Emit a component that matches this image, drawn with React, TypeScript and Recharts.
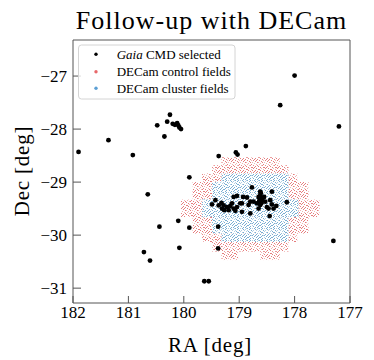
import React from "react";
import {
  ScatterChart,
  Scatter,
  XAxis,
  YAxis,
  ReferenceArea,
} from "recharts";

// Gaia CMD selected stars (RA, Dec in deg)
const gaiaRa = [
  181.9, 181.36, 180.92, 180.48, 180.3, 180.25, 180.35, 180.2, 180.16, 180.12,
  180.1, 180.08, 180.05, 179.37, 179.06, 179.03, 178.88, 178.26, 178.0, 177.2,
  179.9, 180.65, 180.44, 180.1, 179.9, 180.08, 180.72, 180.61, 179.63, 179.55,
  177.3, 179.38, 179.38, 178.14,
  179.43, 179.49, 179.32, 179.28, 179.31, 179.27, 179.22, 179.16, 179.13, 179.1,
  179.07, 179.04, 178.98, 178.95, 178.93, 179.1, 179.04, 178.86, 178.8, 178.83,
  178.77, 178.62, 178.62, 178.63, 178.64, 178.62, 178.68, 178.59, 178.55, 178.53,
  178.5, 178.47, 178.45, 178.41, 178.38, 178.44, 178.74, 178.65, 178.8, 178.41,
  178.33, 178.6, 178.65, 178.95, 179.19, 179.37, 178.61, 178.63, 178.58,
];
const gaiaDec = [
  -28.43, -28.21, -28.49, -27.93, -27.86, -27.73, -28.14, -27.9, -27.92, -27.89,
  -27.93, -27.97, -28.0, -28.51, -28.44, -28.48, -28.32, -27.55, -26.99, -27.95,
  -28.91, -29.23, -29.84, -29.73, -29.86, -30.24, -30.32, -30.48, -30.87, -30.87,
  -30.11, -30.25, -29.84, -29.38,
  -29.34, -29.42, -29.39, -29.44, -29.5, -29.53, -29.47, -29.45, -29.4, -29.5,
  -29.54, -29.47, -29.4, -29.56, -29.28, -29.28, -29.26, -29.29, -29.37, -29.43,
  -29.1, -29.18, -29.25, -29.31, -29.37, -29.43, -29.4, -29.34, -29.28, -29.37,
  -29.47, -29.5, -29.64, -29.42, -29.5, -29.34, -29.37, -29.5, -29.59, -29.18,
  -29.45, -29.4, -29.28, -29.4, -29.53, -29.44, -29.21, -29.34, -29.31,
];

// DECam control fields (outer footprint), one rectangle per strip
const controlRaLo = [178.27, 178.11, 177.95, 177.75, 177.55, 177.75, 177.95, 178.11, 179.02, 178.27];
const controlRaHi = [179.32, 179.49, 179.67, 179.84, 180.05, 179.84, 179.67, 179.49, 179.32, 178.62];
const controlDecLo = [-28.68, -28.84, -29.0, -29.33, -29.66, -29.97, -30.13, -30.31, -30.47, -30.47];
const controlDecHi = [-28.53, -28.68, -28.84, -29.0, -29.33, -29.66, -29.97, -30.13, -30.31, -30.31];

// DECam cluster fields (inner footprint)
const clusterRaLo = [178.11, 178.11, 177.93, 178.11, 178.11];
const clusterRaHi = [179.32, 179.49, 179.67, 179.49, 179.32];
const clusterDecLo = [-29.0, -29.33, -29.66, -29.97, -30.13];
const clusterDecHi = [-28.84, -29.0, -29.33, -29.66, -29.97];

const raTicks = [182, 181, 180, 179, 178, 177];
const decTicks = [-31, -30, -29, -28, -27];

const FONT = "'Liberation Serif', 'Times New Roman', serif";
const AXIS = "#555";

const gaiaData = gaiaRa.map((ra, i) => ({ ra, dec: gaiaDec[i] }));

// speckle texture: x offsets of dots on each row of a 12x12 tile
const redRows = [
  [1, 4, 9], [6, 7, 11], [0, 3, 8], [2, 5, 10], [1, 4, 7, 11], [3, 9],
  [0, 5, 6, 10], [2, 8], [4, 7, 11], [1, 5, 9, 10], [3, 6], [0, 2, 8, 11],
];
const blueRows = [
  [0, 2, 6, 7, 10], [3, 5, 9], [1, 4, 7, 11], [0, 6, 8], [2, 3, 9, 10], [5, 7, 11],
  [1, 4, 8], [0, 3, 6, 10, 11], [2, 5, 9], [0, 4, 7, 8], [1, 6, 10], [3, 5, 9],
];

function Speckle({ id, rows, color, base }: { id: string; rows: number[][]; color: string; base?: boolean }) {
  return (
    <pattern id={id} patternUnits="userSpaceOnUse" width={12} height={12}>
      {base && <rect x={0} y={0} width={12} height={12} fill="#fff" />}
      {rows.map((xs, y) =>
        xs.map((x, j) => (
          <rect
            key={y + "-" + j}
            x={x}
            y={y}
            width={1}
            height={1}
            fill={color}
            fillOpacity={(x + y) % 3 === 0 ? 0.35 : 0.6}
          />
        ))
      )}
    </pattern>
  );
}

const XTick = (props: any) => {
  const { x, y, payload } = props;
  return (
    <g>
      <line x1={x} x2={x} y1={y} y2={y - 7} stroke={AXIS} strokeWidth={1} />
      <text x={x} y={y + 15} textAnchor="middle" fontSize={17} fontFamily={FONT} fill="#000">
        {payload.value}
      </text>
    </g>
  );
};

const YTick = (props: any) => {
  const { x, y, payload } = props;
  return (
    <g>
      <line x1={x} x2={x + 8} y1={y} y2={y} stroke={AXIS} strokeWidth={1} />
      <text x={x - 6} y={y + 6} textAnchor="end" fontSize={17} fontFamily={FONT} fill="#000">
        {"\u2212" + Math.abs(payload.value)}
      </text>
    </g>
  );
};

export default function App() {
  return (
    <div style={{ position: "absolute", left: 0, top: 0, width: 374, height: 360, background: "#fff" }}>
      <svg width={0} height={0} style={{ position: "absolute" }}>
        <defs>
          <Speckle id="redSpeck" rows={redRows} color="#d62728" />
          <Speckle id="blueSpeck" rows={blueRows} color="#1f77b4" base />
        </defs>
      </svg>
      <ScatterChart width={374} height={360} margin={{ top: 40, right: 24, bottom: 17, left: 13 }}>
        <XAxis
          type="number"
          dataKey="ra"
          domain={[177, 182]}
          reversed
          allowDataOverflow
          ticks={raTicks}
          height={40}
          axisLine={false}
          tickLine={false}
          tickSize={0}
          tickMargin={0}
          tick={<XTick />}
        />
        <YAxis
          type="number"
          dataKey="dec"
          domain={[-31.28, -26.32]}
          allowDataOverflow
          ticks={decTicks}
          width={60}
          axisLine={false}
          tickLine={false}
          tickSize={0}
          tickMargin={0}
          tick={<YTick />}
        />
        {controlRaLo.map((lo, i) => (
          <ReferenceArea
            key={"c" + i}
            x1={lo}
            x2={controlRaHi[i]}
            y1={controlDecLo[i]}
            y2={controlDecHi[i]}
            fill="url(#redSpeck)"
            fillOpacity={1}
            stroke="none"
          />
        ))}
        {clusterRaLo.map((lo, i) => (
          <ReferenceArea
            key={"k" + i}
            x1={lo}
            x2={clusterRaHi[i]}
            y1={clusterDecLo[i]}
            y2={clusterDecHi[i]}
            fill="url(#blueSpeck)"
            fillOpacity={1}
            stroke="none"
          />
        ))}
        <Scatter
          data={gaiaData}
          isAnimationActive={false}
          shape={(p: any) => <circle cx={p.cx} cy={p.cy} r={2.4} fill="#000" />}
        />
        <ReferenceArea
          x1={177}
          x2={182}
          y1={-31.28}
          y2={-26.32}
          fill="none"
          fillOpacity={0}
          stroke={AXIS}
          strokeWidth={1}
        />
      </ScatterChart>
      <svg
        width={374}
        height={360}
        style={{ position: "absolute", left: 0, top: 0, pointerEvents: "none" }}
      >
        <text x={211.5} y={29} textAnchor="middle" fontSize={26} letterSpacing={1} fontFamily={FONT} fill="#000">
          Follow-up with DECam
        </text>
        <text x={210} y={351.5} textAnchor="middle" fontSize={21} letterSpacing={0.8} fontFamily={FONT} fill="#000">
          RA [deg]
        </text>
        <text
          transform="translate(28.5,171) rotate(-90)"
          textAnchor="middle"
          fontSize={21}
          letterSpacing={0.8}
          fontFamily={FONT}
          fill="#000"
        >
          Dec [deg]
        </text>
        <rect x={78.5} y={45} width={156.5} height={54} rx={3} fill="#fff" fillOpacity={0.8} stroke="#d4d4d4" />
        <circle cx={96} cy={54.3} r={1.7} fill="#000" />
        <circle cx={96} cy={71.7} r={1.7} fill="#e8686a" />
        <circle cx={96} cy={88.3} r={1.7} fill="#5b9fd4" />
        <text x={116.7} y={58.8} fontSize={13} fontFamily={FONT} fill="#000">
          <tspan fontStyle="italic">Gaia</tspan> CMD selected
        </text>
        <text x={116.7} y={76.2} fontSize={13} fontFamily={FONT} fill="#000">
          DECam control fields
        </text>
        <text x={116.7} y={92.8} fontSize={13} fontFamily={FONT} fill="#000">
          DECam cluster fields
        </text>
      </svg>
    </div>
  );
}
